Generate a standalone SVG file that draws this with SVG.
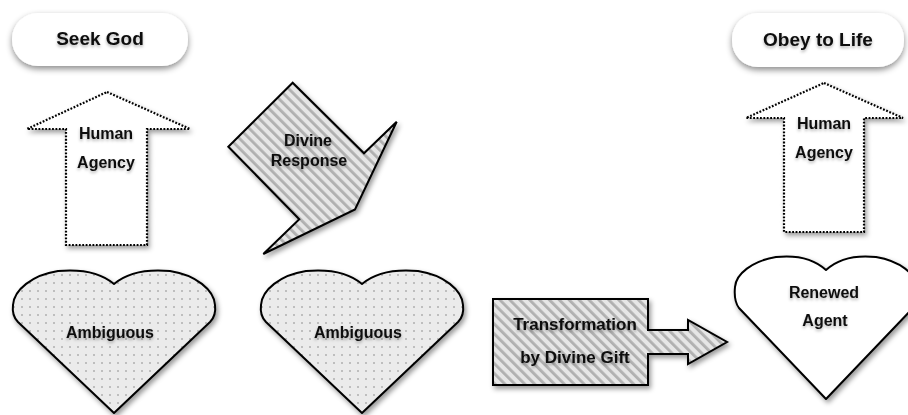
<svg xmlns="http://www.w3.org/2000/svg" width="908" height="415" viewBox="0 0 908 415">
<style>
  text { font-family: "Liberation Sans", Arial, Helvetica, sans-serif; font-weight: bold; fill: #0d0d0d; text-anchor: middle; filter: url(#ts); }
  .pilltxt { font-size: 19px; }
  .lbl { font-size: 16px; }
  .lbl17 { font-size: 17px; }
  .pill { fill: #ffffff; filter: url(#psh); }
  .dotted { fill: #ffffff; stroke: #000; stroke-width: 2.2; stroke-dasharray: 1.8 1.6; filter: url(#sh); }
  .striped { fill: url(#stripes); stroke: #000; stroke-width: 2; stroke-linejoin: miter; filter: url(#sh); }
  .heart { stroke: #000; stroke-width: 2; stroke-linejoin: round; filter: url(#sh); }
  .dots { fill: url(#dots); }
  .plain { fill: #ffffff; }
</style>
<defs>
  <filter id="sh" x="-20%" y="-20%" width="140%" height="140%">
    <feDropShadow dx="2" dy="3" stdDeviation="2.5" flood-color="#000" flood-opacity="0.4"/>
  </filter>
  <filter id="psh" x="-20%" y="-40%" width="140%" height="190%">
    <feDropShadow dx="0" dy="3" stdDeviation="3" flood-color="#000" flood-opacity="0.45"/>
  </filter>
  <filter id="ts" x="-20%" y="-40%" width="140%" height="190%">
    <feDropShadow dx="0" dy="2" stdDeviation="1.5" flood-color="#000" flood-opacity="0.3"/>
  </filter>
  <pattern id="stripes" patternUnits="userSpaceOnUse" width="7" height="7" patternTransform="rotate(-45)">
    <rect width="7" height="7" fill="#e6e6e6"/>
    <rect width="2.8" height="7" fill="#b0b0b0"/>
  </pattern>
  <pattern id="dots" patternUnits="userSpaceOnUse" width="8" height="8">
    <rect width="8" height="8" fill="#ebebeb"/>
    <circle cx="4" cy="4" r="0.75" fill="#7a7a7a"/>
  </pattern>
</defs>

<g id="connectors"></g>

<g id="seek-god">
  <rect class="pill" x="12" y="13" width="176" height="53" rx="26" ry="26"/>
  <text class="pilltxt" x="100" y="45">Seek God</text>
</g>

<g id="obey-to-life">
  <rect class="pill" x="732" y="13" width="172" height="54" rx="26" ry="26"/>
  <text class="pilltxt" x="818" y="46">Obey to Life</text>
</g>

<g id="human-agency-1">
  <polygon class="dotted" points="107,92 190,129 147,129 147,245 66,245 66,129 27,129"/>
  <text class="lbl" x="106" y="139">Human</text>
  <text class="lbl" x="106" y="168">Agency</text>
</g>

<g id="human-agency-2">
  <polygon class="dotted" points="824,83 903,118 864,118 864,232 784,232 784,118 746,118"/>
  <text class="lbl" x="824" y="129">Human</text>
  <text class="lbl" x="824" y="158">Agency</text>
</g>

<g id="divine-response">
  <polygon class="striped" points="292.7,82.7 364,153.3 396.7,121.7 355,209.5 263.3,254 299.3,219.3 228.3,146.7"/>
  <text class="lbl" x="308" y="146">Divine</text>
  <text class="lbl" x="309" y="166">Response</text>
</g>

<g id="ambiguous-1" transform="translate(114,271)">
  <path class="heart dots" d="M0,13 C-14,1 -34,-2 -56,0 C-82,4 -100,19 -101,34 C-102,42 -100,47 -96,51 L0,142 L96,51 C100,47 102,42 101,34 C100,19 82,4 56,0 C34,-2 14,1 0,13 Z"/>
  <text class="lbl" x="-4" y="67">Ambiguous</text>
</g>

<g id="ambiguous-2" transform="translate(362,271)">
  <path class="heart dots" d="M0,13 C-14,1 -34,-2 -56,0 C-82,4 -100,19 -101,34 C-102,42 -100,47 -96,51 L0,142 L96,51 C100,47 102,42 101,34 C100,19 82,4 56,0 C34,-2 14,1 0,13 Z"/>
  <text class="lbl" x="-4" y="67">Ambiguous</text>
</g>

<g id="transformation">
  <polygon class="striped" points="493,299 648,299 648,330 688,330 688,320 727,342 688,364 688,354 648,354 648,385 493,385"/>
  <text class="lbl17" x="575" y="330">Transformation</text>
  <text class="lbl17" x="575" y="363">by Divine Gift</text>
</g>

<g id="renewed-agent" transform="translate(826,257)">
  <path class="heart plain" d="M0,13 C-13,1 -31,-2 -50,0 C-74,4 -90,17 -91,30 C-92,40 -90,47 -87,51 L0,142 L87,51 C90,47 92,40 91,30 C90,17 74,4 50,0 C31,-2 13,1 0,13 Z"/>
  <text class="lbl" x="-2" y="41">Renewed</text>
  <text class="lbl" x="-1" y="69">Agent</text>
</g>
</svg>
